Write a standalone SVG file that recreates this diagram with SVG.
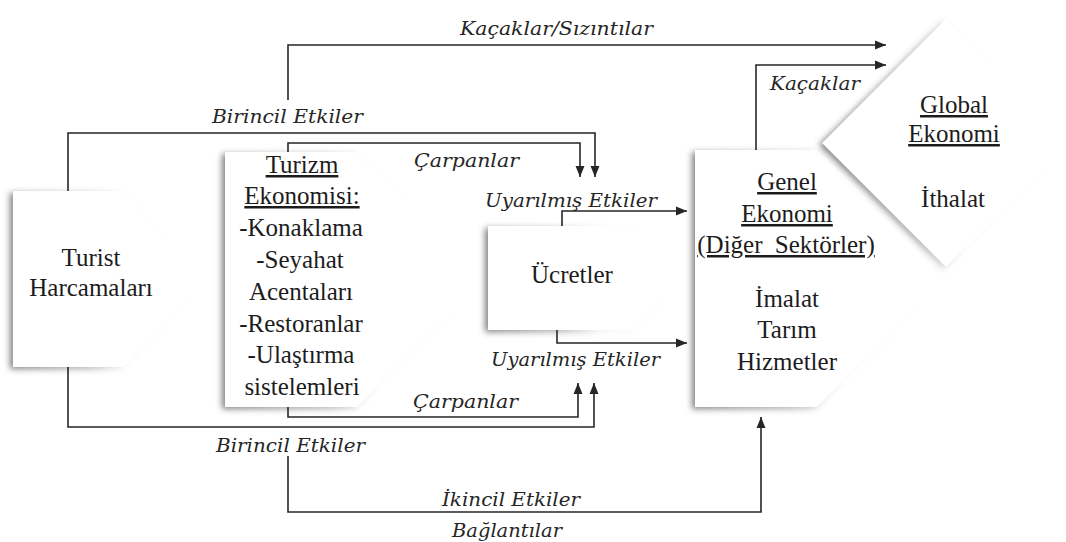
<svg xmlns="http://www.w3.org/2000/svg" width="1066" height="542" viewBox="0 0 1066 542">
  <style>
    .box { fill: #ffffff; }
    .shade { fill: url(#shadeGrad); filter: url(#soft); }
    .lbl { font-family: "Liberation Serif", "Times New Roman", serif; font-size: 25px; fill: #1c1c1c; text-anchor: middle; }
    .u { text-decoration: underline; }
    .it { font-family: "DejaVu Serif", "Liberation Serif", serif; font-style: italic; font-size: 18px; fill: #262626; }
    .wire { fill: none; stroke: #262626; stroke-width: 1.6; }
    .arrow { marker-end: url(#head); }
  </style>
  <defs>
    <linearGradient id="shadeGrad" x1="0" y1="0" x2="1" y2="0">
      <stop offset="0" stop-color="#000" stop-opacity="0.5"/>
      <stop offset="0.4" stop-color="#000" stop-opacity="0.3"/>
      <stop offset="0.6" stop-color="#000" stop-opacity="0.04"/>
      <stop offset="1" stop-color="#000" stop-opacity="0"/>
    </linearGradient>
    <filter id="soft" x="-20%" y="-20%" width="140%" height="140%">
      <feGaussianBlur stdDeviation="3"/>
    </filter>
    <marker id="head" markerUnits="userSpaceOnUse" markerWidth="12" markerHeight="10" refX="11" refY="5" orient="auto">
      <path d="M0,0.5 L11,5 L0,9.5 Z" fill="#262626"/>
    </marker>
  </defs>

  <!-- tourist spending -->
  <g id="turist">
    <path class="shade" transform="translate(-3,2)" d="M13,191 H124 L205,279 L124,367 H13 Z"/>
    <path class="box" d="M13,191 H124 L205,279 L124,367 H13 Z"/>
    <text class="lbl" x="91" y="266">Turist</text>
    <text class="lbl" x="91" y="296">Harcamaları</text>
  </g>

  <!-- tourism economy -->
  <g id="turizm">
    <path class="shade" transform="translate(-3,2)" d="M225,152 H357 L483,280 L357,407 H225 Z"/>
    <path class="box" d="M225,152 H357 L483,280 L357,407 H225 Z"/>
    <text class="lbl u" x="302" y="173">Turizm</text>
    <text class="lbl u" x="302" y="204">Ekonomisi:</text>
    <text class="lbl" x="301" y="236">-Konaklama</text>
    <text class="lbl" x="300" y="268">-Seyahat</text>
    <text class="lbl" x="301" y="300">Acentaları</text>
    <text class="lbl" x="301" y="332">-Restoranlar</text>
    <text class="lbl" x="301" y="363">-Ulaştırma</text>
    <text class="lbl" x="302" y="395">sistelemleri</text>
  </g>

  <!-- wages -->
  <g id="ucretler">
    <path class="shade" transform="translate(-3,2)" d="M488,226 H633 L683,278 L633,330 H488 Z"/>
    <path class="box" d="M488,226 H633 L683,278 L633,330 H488 Z"/>
    <text class="lbl" x="572" y="283">Ücretler</text>
  </g>

  <!-- general economy -->
  <g id="genel">
    <path class="shade" transform="translate(-3,2)" d="M695,150 H817 L945,278 L817,407 H695 Z"/>
    <path class="box" d="M695,150 H817 L945,278 L817,407 H695 Z"/>
    <text class="lbl u" x="787" y="190">Genel</text>
    <text class="lbl u" x="787" y="222">Ekonomi</text>
    <text class="lbl u" x="786" y="253" word-spacing="6">(Diğer Sektörler)</text>
    <text class="lbl" x="787" y="307">İmalat</text>
    <text class="lbl" x="787" y="338">Tarım</text>
    <text class="lbl" x="787" y="370">Hizmetler</text>
  </g>

  <!-- global economy -->
  <g id="global">
    <path class="shade" transform="translate(-3,2)" d="M822,143 L946,19 L1070,143 L946,267 Z"/>
    <path class="box" d="M822,143 L946,19 L1070,143 L946,267 Z"/>
    <text class="lbl u" x="954" y="113">Global</text>
    <text class="lbl u" x="954" y="142">Ekonomi</text>
    <text class="lbl" x="953" y="207">İthalat</text>
  </g>

  <!-- flows between sectors -->
  <g id="connectors">
    <path class="wire arrow" d="M288,100 V45 H886"/>
    <path class="wire arrow" d="M756,150 V65 H886"/>
    <path class="wire arrow" d="M68,191 V133 H595 V177"/>
    <path class="wire arrow" d="M288,152 V143 H580 V177"/>
    <path class="wire arrow" d="M562,226 V211 H687"/>
    <path class="wire arrow" d="M557,330 V343 H687"/>
    <path class="wire arrow" d="M288,407 V417 H578 V383"/>
    <path class="wire arrow" d="M68,367 V427 H594 V383"/>
    <path class="wire arrow" d="M288,456 V512 H761 V417"/>

    <text class="it" x="460" y="35" textLength="193" lengthAdjust="spacingAndGlyphs">Kaçaklar/Sızıntılar</text>
    <text class="it" x="770" y="90" textLength="90" lengthAdjust="spacingAndGlyphs">Kaçaklar</text>
    <text class="it" x="212" y="123" textLength="151" lengthAdjust="spacingAndGlyphs">Birincil Etkiler</text>
    <text class="it" x="414" y="167" textLength="105" lengthAdjust="spacingAndGlyphs">Çarpanlar</text>
    <text class="it" x="485" y="207" textLength="172" lengthAdjust="spacingAndGlyphs">Uyarılmış Etkiler</text>
    <text class="it" x="491" y="366" textLength="169" lengthAdjust="spacingAndGlyphs">Uyarılmış Etkiler</text>
    <text class="it" x="413" y="408" textLength="105" lengthAdjust="spacingAndGlyphs">Çarpanlar</text>
    <text class="it" x="216" y="452" textLength="149" lengthAdjust="spacingAndGlyphs">Birincil Etkiler</text>
    <text class="it" x="442" y="506" textLength="138" lengthAdjust="spacingAndGlyphs">İkincil Etkiler</text>
    <text class="it" x="452" y="537" textLength="110" lengthAdjust="spacingAndGlyphs">Bağlantılar</text>
  </g>
</svg>
